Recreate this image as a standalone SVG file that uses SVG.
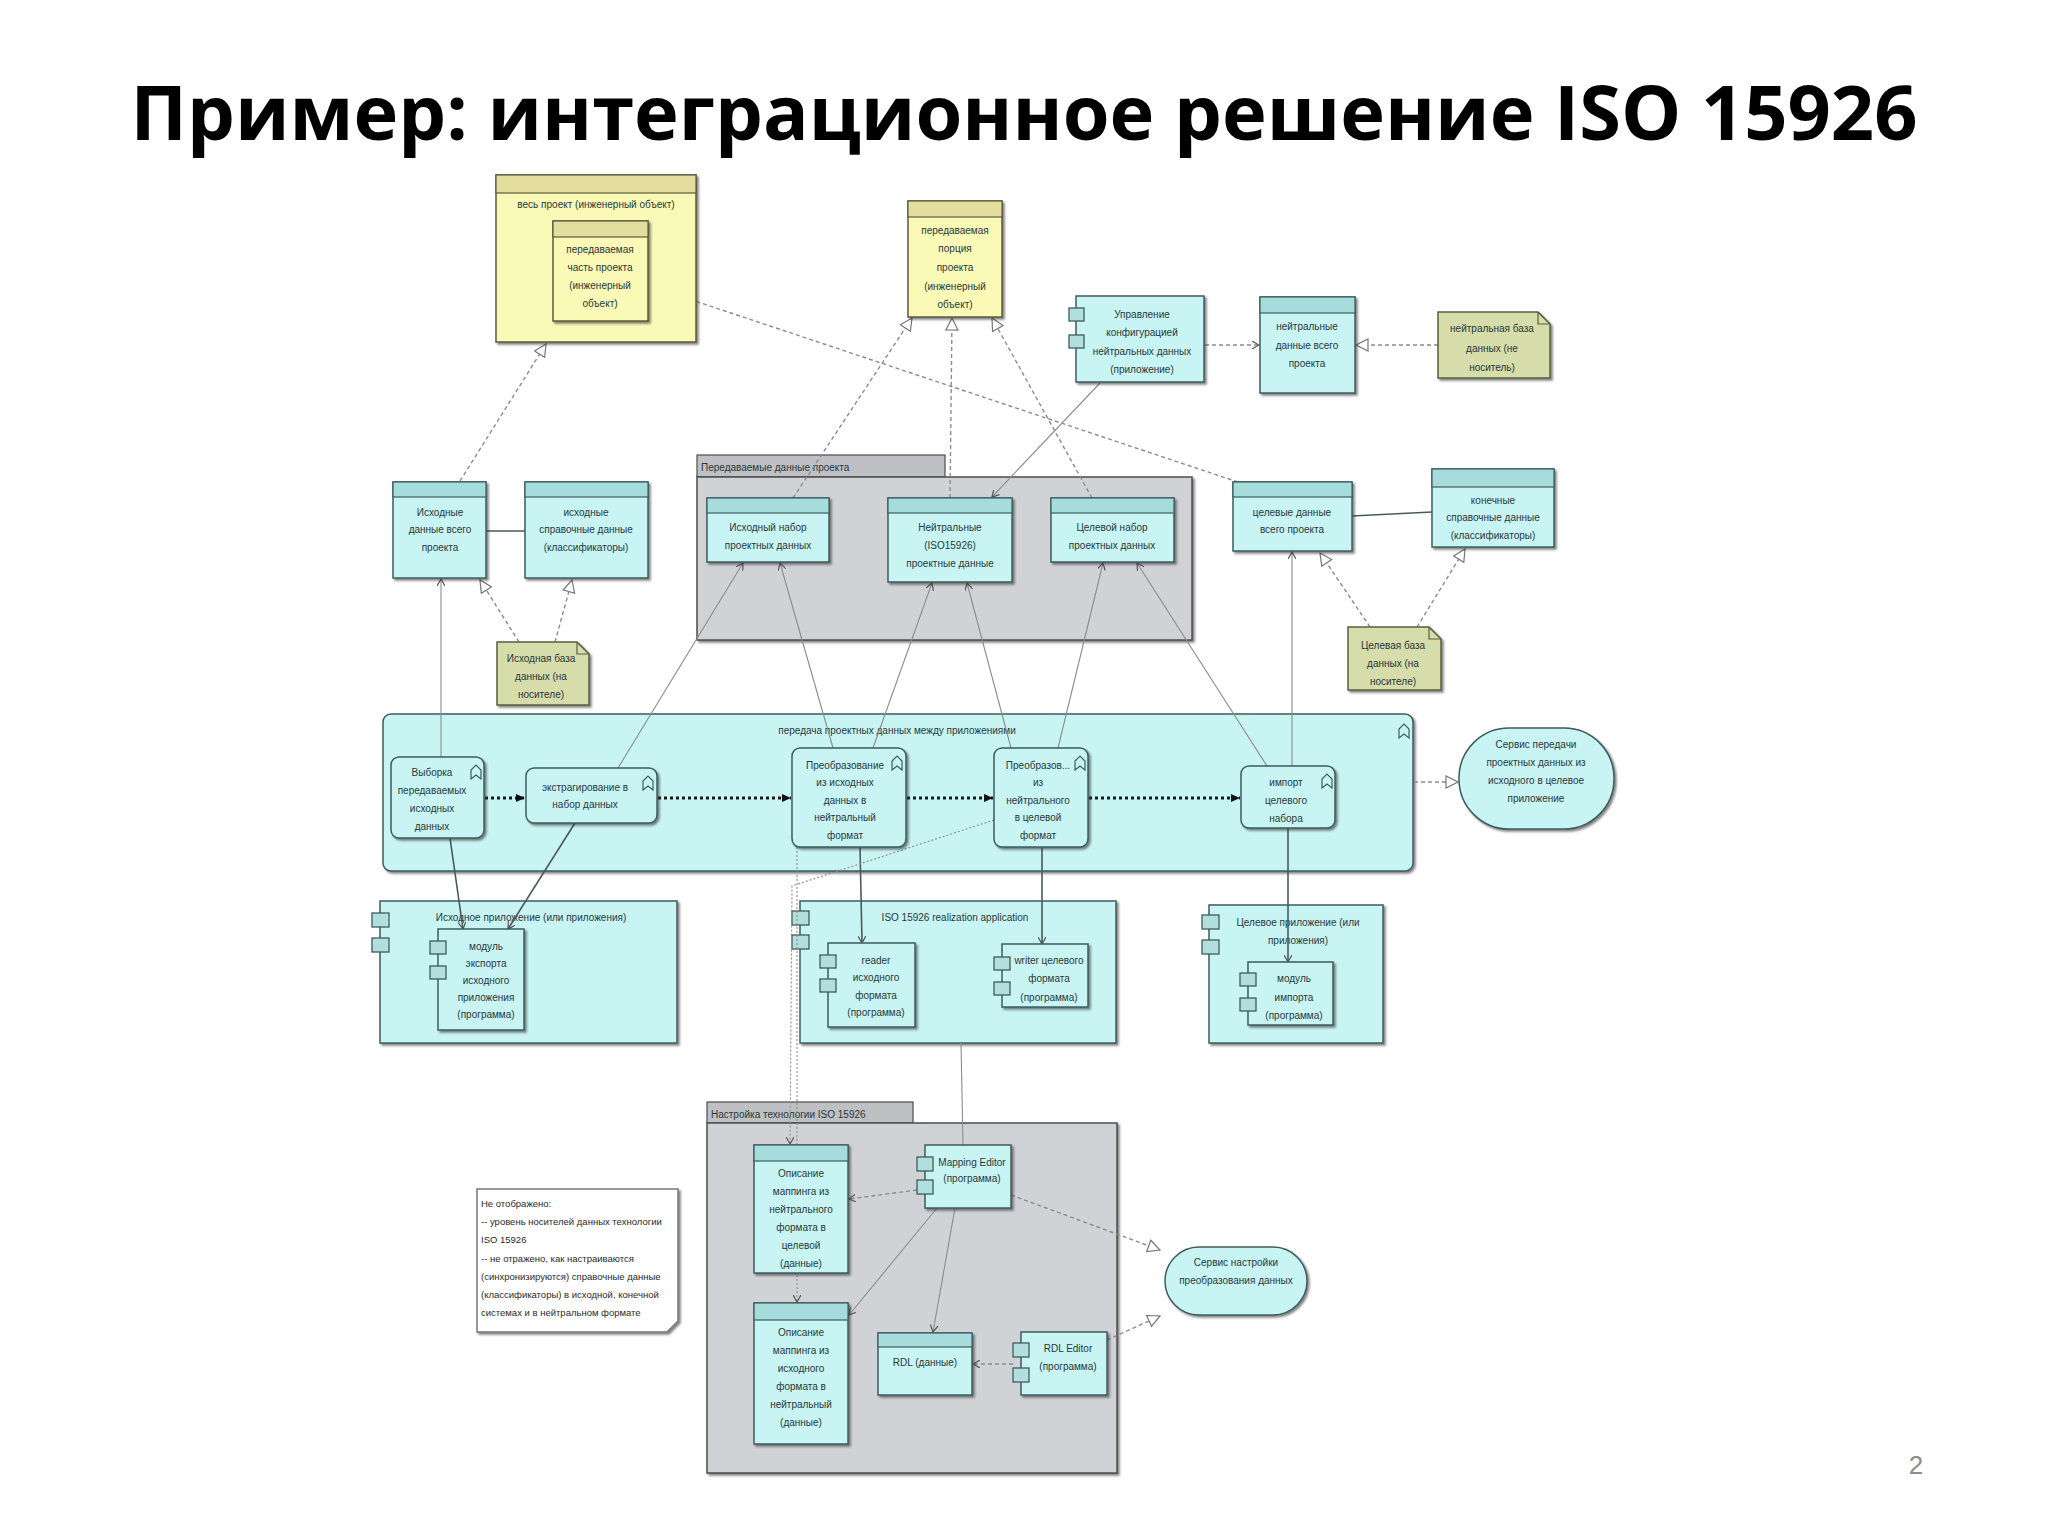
<svg xmlns="http://www.w3.org/2000/svg" width="2048" height="1536" viewBox="0 0 2048 1536">
<style>
.bg{fill:#ffffff}
.cy{fill:#c9f4f4;stroke:#3d5c5c;stroke-width:1.5;filter:url(#sh)}
.hd{fill:#a6dcdc;stroke:#3d5c5c;stroke-width:1.2}
.sq{fill:#b3dede;stroke:#3d5c5c;stroke-width:1.3}
.ye{fill:#fbf9b6;stroke:#5d5a3e;stroke-width:1.5;filter:url(#sh)}
.yh{fill:#e4de9e;stroke:#5d5a3e;stroke-width:1.2}
.nt{fill:#d6dcaa;stroke:#55603e;stroke-width:1.5;filter:url(#sh)}
.gr{fill:#d1d2d6;stroke:#4a4c50;stroke-width:1.5;filter:url(#sh)}
.gt{fill:#bfc0c4;stroke:#4a4c50;stroke-width:1.2}
.wn{fill:#ffffff;stroke:#777;stroke-width:1.5;filter:url(#sh)}
.t{font-family:"Liberation Sans",Arial,sans-serif;font-size:10px;fill:#26383a;text-anchor:middle}
.tl{font-family:"Liberation Sans",Arial,sans-serif;font-size:10px;fill:#26383a;text-anchor:start}
.tn{font-family:"Liberation Sans",Arial,sans-serif;font-size:9.5px;fill:#2a2a2a;text-anchor:start}
.ln{stroke:#8c8c8c;stroke-width:1.1;fill:none}
.dl{stroke:#8c8c8c;stroke-width:1.4;stroke-dasharray:4 3;fill:none}
.tr{stroke:#1a1a1a;stroke-width:3;stroke-dasharray:3 3;fill:none}
.as{stroke:#4a5a5a;stroke-width:1.6;fill:none}
.ic{fill:none;stroke:#3d5c5c;stroke-width:1.2}
</style>
<defs>
<filter id="sh" x="-5%" y="-5%" width="115%" height="115%">
<feDropShadow dx="2" dy="2" stdDeviation="0.8" flood-color="#333" flood-opacity="0.6"/>
</filter>
<marker id="real" markerWidth="14" markerHeight="14" refX="13" refY="7" orient="auto" markerUnits="userSpaceOnUse"><path d="M1,1 L13,7 L1,13 z" fill="#fff" stroke="#777" stroke-width="1.2"/></marker>
<marker id="acc" markerWidth="8" markerHeight="8" refX="7" refY="4" orient="auto" markerUnits="userSpaceOnUse"><path d="M0,0 L7,4 L0,8" fill="none" stroke="#555" stroke-width="1.2"/></marker>
<marker id="trig" markerWidth="10" markerHeight="10" refX="9" refY="5" orient="auto" markerUnits="userSpaceOnUse"><path d="M0,1 L9,5 L0,9 z" fill="#111"/></marker>
</defs>
<rect class="bg" x="0" y="0" width="2048" height="1536"/>

<text x="1024" y="140" font-family="'Open Sans','Noto Sans',sans-serif" font-size="76" font-weight="bold" fill="#000" text-anchor="middle" textLength="1787" lengthAdjust="spacingAndGlyphs">Пример: интеграционное решение ISO 15926</text>

<!-- containers -->
<g id="g-transfer">
<rect class="gt" x="697" y="455" width="248" height="22"/>
<rect class="gr" x="697" y="477" width="495" height="163"/>
<text class="tl" x="701" y="471">Передаваемые данные проекта</text>
</g>
<g id="g-setup">
<rect class="gt" x="707" y="1102" width="206" height="21"/>
<rect class="gr" x="707" y="1123" width="410" height="350"/>
<text class="tl" x="711" y="1118">Настройка технологии ISO 15926</text>
</g>
<g id="p-transfer">
<rect class="cy" x="383" y="714" width="1030" height="157" rx="8"/>
<text class="t" x="897" y="734">передача проектных данных между приложениями</text>
<path class="ic" d="M1399,738 L1399,729 L1404,724 L1409,729 L1409,738 L1404,734 z"/>
</g>
<g id="a-src">
<rect class="cy" x="380" y="901" width="297" height="142"/>
<rect class="sq" x="372" y="913" width="17" height="14"/>
<rect class="sq" x="372" y="938" width="17" height="14"/>
<text class="t" x="531" y="921">Исходное приложение (или приложения)</text>
</g>
<g id="a-iso">
<rect class="cy" x="800" y="901" width="316" height="142"/>
<rect class="sq" x="792" y="911" width="17" height="14"/>
<rect class="sq" x="792" y="935" width="17" height="14"/>
<text class="t" x="955" y="921">ISO 15926 realization application</text>
</g>
<g id="a-tgt">
<rect class="cy" x="1209" y="905" width="174" height="138"/>
<rect class="sq" x="1202" y="915" width="17" height="14"/>
<rect class="sq" x="1202" y="940" width="17" height="14"/>
<text class="t" x="1298" y="926">Целевое приложение (или</text>
<text class="t" x="1298" y="944">приложения)</text>
</g>

<!-- connectors -->
<g id="connectors">
<line class="dl" x1="460" y1="481" x2="546" y2="344" marker-end="url(#real)"/>
<line class="dl" x1="1238" y1="482" x2="650" y2="286" marker-end="url(#real)"/>
<line class="dl" x1="793" y1="498" x2="912" y2="318" marker-end="url(#real)"/>
<line class="dl" x1="950" y1="498" x2="952" y2="318" marker-end="url(#real)"/>
<line class="dl" x1="1092" y1="498" x2="992" y2="318" marker-end="url(#real)"/>
<line class="ln" x1="1100" y1="383" x2="992" y2="497" marker-end="url(#acc)"/>
<line class="dl" x1="1205" y1="345" x2="1259" y2="345" marker-end="url(#acc)"/>
<line class="dl" x1="1438" y1="345" x2="1356" y2="345" marker-end="url(#real)"/>
<line class="dl" x1="519" y1="642" x2="480" y2="580" marker-end="url(#real)"/>
<line class="dl" x1="555" y1="642" x2="572" y2="580" marker-end="url(#real)"/>
<line class="dl" x1="1370" y1="627" x2="1320" y2="553" marker-end="url(#real)"/>
<line class="dl" x1="1417" y1="627" x2="1465" y2="549" marker-end="url(#real)"/>
<line class="as" x1="486" y1="531" x2="525" y2="531"/>
<line class="as" x1="1352" y1="516" x2="1432" y2="512"/>
<line class="ln" x1="441" y1="757" x2="441" y2="579" marker-end="url(#acc)"/>
<line class="ln" x1="618" y1="768" x2="743" y2="563" marker-end="url(#acc)"/>
<line class="ln" x1="833" y1="748" x2="780" y2="563" marker-end="url(#acc)"/>
<line class="ln" x1="873" y1="748" x2="932" y2="583" marker-end="url(#acc)"/>
<line class="ln" x1="1011" y1="748" x2="967" y2="583" marker-end="url(#acc)"/>
<line class="ln" x1="1058" y1="748" x2="1103" y2="563" marker-end="url(#acc)"/>
<line class="ln" x1="1267" y1="766" x2="1137" y2="563" marker-end="url(#acc)"/>
<line class="ln" x1="1292" y1="766" x2="1292" y2="552" marker-end="url(#acc)"/>
<line class="tr" x1="485" y1="798" x2="525" y2="798" marker-end="url(#trig)"/>
<line class="tr" x1="658" y1="798" x2="791" y2="798" marker-end="url(#trig)"/>
<line class="tr" x1="907" y1="798" x2="993" y2="798" marker-end="url(#trig)"/>
<line class="tr" x1="1089" y1="798" x2="1240" y2="798" marker-end="url(#trig)"/>
<line class="dl" x1="1414" y1="782" x2="1458" y2="782" marker-end="url(#real)"/>
<line class="as" x1="450" y1="838" x2="463" y2="929" marker-end="url(#acc)"/>
<line class="as" x1="575" y1="823" x2="508" y2="929" marker-end="url(#acc)"/>
<line class="as" x1="860" y1="847" x2="862" y2="943" marker-end="url(#acc)"/>
<line class="as" x1="1042" y1="848" x2="1042" y2="944" marker-end="url(#acc)"/>
<line class="as" x1="1288" y1="828" x2="1288" y2="962" marker-end="url(#acc)"/>
<line class="ln" x1="961" y1="1043" x2="963" y2="1145"/>
<polyline class="dl" style="stroke-width:1.1;stroke-dasharray:2 2" points="994,820 792,886 790,1144" marker-end="url(#acc)"/>
<polyline class="dl" style="stroke-width:1.1;stroke-dasharray:2 2" points="797,847 797,1302" marker-end="url(#acc)"/>
<line class="dl" x1="917" y1="1190" x2="849" y2="1199" marker-end="url(#acc)"/>
<line class="ln" x1="937" y1="1208" x2="849" y2="1315" marker-end="url(#acc)"/>
<line class="ln" x1="955" y1="1208" x2="933" y2="1332" marker-end="url(#acc)"/>
<line class="dl" x1="1011" y1="1195" x2="1160" y2="1250" marker-end="url(#real)"/>
<line class="dl" x1="1107" y1="1340" x2="1160" y2="1316" marker-end="url(#real)"/>
<line class="dl" x1="1013" y1="1364" x2="973" y2="1364" marker-end="url(#acc)"/>
</g>

<!-- nodes -->
<g id="y-project">
<rect class="ye" x="496" y="175" width="200" height="167"/>
<rect class="yh" x="496" y="175" width="200" height="18"/>
<text class="t" x="596" y="208">весь проект (инженерный объект)</text>
<rect class="ye" x="553" y="221" width="95" height="100"/>
<rect class="yh" x="553" y="221" width="95" height="16"/>
<text class="t" x="600" y="253">передаваемая</text>
<text class="t" x="600" y="271">часть проекта</text>
<text class="t" x="600" y="289">(инженерный</text>
<text class="t" x="600" y="307">объект)</text>
</g>
<g id="y-portion">
<rect class="ye" x="908" y="201" width="94" height="116"/>
<rect class="yh" x="908" y="201" width="94" height="16"/>
<text class="t" x="955" y="234">передаваемая</text>
<text class="t" x="955" y="252">порция</text>
<text class="t" x="955" y="271">проекта</text>
<text class="t" x="955" y="290">(инженерный</text>
<text class="t" x="955" y="308">объект)</text>
</g>
<g id="app-config">
<rect class="cy" x="1076" y="296" width="128" height="86"/>
<rect class="sq" x="1069" y="308" width="15" height="13"/>
<rect class="sq" x="1069" y="335" width="15" height="13"/>
<text class="t" x="1142" y="318">Управление</text>
<text class="t" x="1142" y="336">конфигурацией</text>
<text class="t" x="1142" y="355">нейтральных данных</text>
<text class="t" x="1142" y="373">(приложение)</text>
</g>
<g id="d-neutral-all">
<rect class="cy" x="1260" y="297" width="95" height="96"/>
<rect class="hd" x="1260" y="297" width="95" height="16"/>
<text class="t" x="1307" y="330">нейтральные</text>
<text class="t" x="1307" y="349">данные всего</text>
<text class="t" x="1307" y="367">проекта</text>
</g>
<g id="n-neutral-db">
<path class="nt" d="M1438,312 L1538,312 L1550,324 L1550,378 L1438,378 z"/>
<path d="M1538,312 L1538,324 L1550,324" fill="none" stroke="#55603e" stroke-width="1.2"/>
<text class="t" x="1492" y="332">нейтральная база</text>
<text class="t" x="1492" y="352">данных (не</text>
<text class="t" x="1492" y="371">носитель)</text>
</g>
<g id="d-src-set">
<rect class="cy" x="707" y="498" width="122" height="64"/>
<rect class="hd" x="707" y="498" width="122" height="15"/>
<text class="t" x="768" y="531">Исходный набор</text>
<text class="t" x="768" y="549">проектных данных</text>
</g>
<g id="d-neutral">
<rect class="cy" x="888" y="498" width="124" height="84"/>
<rect class="hd" x="888" y="498" width="124" height="15"/>
<text class="t" x="950" y="531">Нейтральные</text>
<text class="t" x="950" y="549">(ISO15926)</text>
<text class="t" x="950" y="567">проектные данные</text>
</g>
<g id="d-tgt-set">
<rect class="cy" x="1051" y="498" width="123" height="64"/>
<rect class="hd" x="1051" y="498" width="123" height="15"/>
<text class="t" x="1112" y="531">Целевой набор</text>
<text class="t" x="1112" y="549">проектных данных</text>
</g>
<g id="d-src-all">
<rect class="cy" x="393" y="482" width="93" height="96"/>
<rect class="hd" x="393" y="482" width="93" height="15"/>
<text class="t" x="440" y="516">Исходные</text>
<text class="t" x="440" y="533">данные всего</text>
<text class="t" x="440" y="551">проекта</text>
</g>
<g id="d-src-ref">
<rect class="cy" x="525" y="482" width="123" height="96"/>
<rect class="hd" x="525" y="482" width="123" height="15"/>
<text class="t" x="586" y="516">исходные</text>
<text class="t" x="586" y="533">справочные данные</text>
<text class="t" x="586" y="551">(классификаторы)</text>
</g>
<g id="n-src-db">
<path class="nt" d="M497,642 L577,642 L589,654 L589,705 L497,705 z"/>
<path d="M577,642 L577,654 L589,654" fill="none" stroke="#55603e" stroke-width="1.2"/>
<text class="t" x="541" y="662">Исходная база</text>
<text class="t" x="541" y="680">данных (на</text>
<text class="t" x="541" y="698">носителе)</text>
</g>
<g id="d-tgt-all">
<rect class="cy" x="1233" y="482" width="119" height="69"/>
<rect class="hd" x="1233" y="482" width="119" height="15"/>
<text class="t" x="1292" y="516">целевые данные</text>
<text class="t" x="1292" y="533">всего проекта</text>
</g>
<g id="d-tgt-ref">
<rect class="cy" x="1432" y="469" width="122" height="78"/>
<rect class="hd" x="1432" y="469" width="122" height="18"/>
<text class="t" x="1493" y="504">конечные</text>
<text class="t" x="1493" y="521">справочные данные</text>
<text class="t" x="1493" y="539">(классификаторы)</text>
</g>
<g id="n-tgt-db">
<path class="nt" d="M1348,627 L1429,627 L1441,639 L1441,690 L1348,690 z"/>
<path d="M1429,627 L1429,639 L1441,639" fill="none" stroke="#55603e" stroke-width="1.2"/>
<text class="t" x="1393" y="649">Целевая база</text>
<text class="t" x="1393" y="667">данных (на</text>
<text class="t" x="1393" y="685">носителе)</text>
</g>

<g id="p-select">
<rect class="cy" x="391" y="757" width="93" height="81" rx="8"/>
<path class="ic" d="M471,779 L471,770 L476,765 L481,770 L481,779 L476,775 z"/>
<text class="t" x="432" y="776">Выборка</text>
<text class="t" x="432" y="794">передаваемых</text>
<text class="t" x="432" y="812">исходных</text>
<text class="t" x="432" y="830">данных</text>
</g>
<g id="p-extract">
<rect class="cy" x="526" y="768" width="131" height="55" rx="8"/>
<path class="ic" d="M643,790 L643,781 L648,776 L653,781 L653,790 L648,786 z"/>
<text class="t" x="585" y="791">экстрагирование в</text>
<text class="t" x="585" y="808">набор данных</text>
</g>
<g id="p-conv1">
<rect class="cy" x="792" y="748" width="114" height="99" rx="8"/>
<path class="ic" d="M892,770 L892,761 L897,756 L902,761 L902,770 L897,766 z"/>
<text class="t" x="845" y="769">Преобразование</text>
<text class="t" x="845" y="786">из исходных</text>
<text class="t" x="845" y="804">данных в</text>
<text class="t" x="845" y="821">нейтральный</text>
<text class="t" x="845" y="839">формат</text>
</g>
<g id="p-conv2">
<rect class="cy" x="994" y="748" width="94" height="99" rx="8"/>
<path class="ic" d="M1075,770 L1075,761 L1080,756 L1085,761 L1085,770 L1080,766 z"/>
<text class="t" x="1038" y="769">Преобразов...</text>
<text class="t" x="1038" y="786">из</text>
<text class="t" x="1038" y="804">нейтрального</text>
<text class="t" x="1038" y="821">в целевой</text>
<text class="t" x="1038" y="839">формат</text>
</g>
<g id="p-import">
<rect class="cy" x="1241" y="766" width="94" height="62" rx="8"/>
<path class="ic" d="M1322,788 L1322,779 L1327,774 L1332,779 L1332,788 L1327,784 z"/>
<text class="t" x="1286" y="786">импорт</text>
<text class="t" x="1286" y="804">целевого</text>
<text class="t" x="1286" y="822">набора</text>
</g>
<g id="s-transfer">
<rect class="cy" x="1459" y="728" width="155" height="101" rx="50"/>
<text class="t" x="1536" y="748">Сервис передачи</text>
<text class="t" x="1536" y="766">проектных данных из</text>
<text class="t" x="1536" y="784">исходного в целевое</text>
<text class="t" x="1536" y="802">приложение</text>
</g>

<g id="c-export">
<rect class="cy" x="438" y="929" width="86" height="101"/>
<rect class="sq" x="430" y="941" width="16" height="13"/>
<rect class="sq" x="430" y="966" width="16" height="13"/>
<text class="t" x="486" y="950">модуль</text>
<text class="t" x="486" y="967">экспорта</text>
<text class="t" x="486" y="984">исходного</text>
<text class="t" x="486" y="1001">приложения</text>
<text class="t" x="486" y="1018">(программа)</text>
</g>
<g id="c-reader">
<rect class="cy" x="828" y="943" width="87" height="84"/>
<rect class="sq" x="820" y="955" width="16" height="13"/>
<rect class="sq" x="820" y="979" width="16" height="13"/>
<text class="t" x="876" y="964">reader</text>
<text class="t" x="876" y="981">исходного</text>
<text class="t" x="876" y="999">формата</text>
<text class="t" x="876" y="1016">(программа)</text>
</g>
<g id="c-writer">
<rect class="cy" x="1002" y="944" width="86" height="63"/>
<rect class="sq" x="994" y="957" width="16" height="13"/>
<rect class="sq" x="994" y="982" width="16" height="13"/>
<text class="t" x="1049" y="964">writer целевого</text>
<text class="t" x="1049" y="982">формата</text>
<text class="t" x="1049" y="1001">(программа)</text>
</g>
<g id="c-import">
<rect class="cy" x="1248" y="962" width="85" height="63"/>
<rect class="sq" x="1240" y="973" width="16" height="13"/>
<rect class="sq" x="1240" y="998" width="16" height="13"/>
<text class="t" x="1294" y="982">модуль</text>
<text class="t" x="1294" y="1001">импорта</text>
<text class="t" x="1294" y="1019">(программа)</text>
</g>

<g id="d-map-nt">
<rect class="cy" x="754" y="1145" width="94" height="128"/>
<rect class="hd" x="754" y="1145" width="94" height="16"/>
<text class="t" x="801" y="1177">Описание</text>
<text class="t" x="801" y="1195">маппинга из</text>
<text class="t" x="801" y="1213">нейтрального</text>
<text class="t" x="801" y="1231">формата в</text>
<text class="t" x="801" y="1249">целевой</text>
<text class="t" x="801" y="1267">(данные)</text>
</g>
<g id="d-map-sn">
<rect class="cy" x="754" y="1303" width="94" height="141"/>
<rect class="hd" x="754" y="1303" width="94" height="17"/>
<text class="t" x="801" y="1336">Описание</text>
<text class="t" x="801" y="1354">маппинга из</text>
<text class="t" x="801" y="1372">исходного</text>
<text class="t" x="801" y="1390">формата в</text>
<text class="t" x="801" y="1408">нейтральный</text>
<text class="t" x="801" y="1426">(данные)</text>
</g>
<g id="d-rdl">
<rect class="cy" x="878" y="1333" width="94" height="62"/>
<rect class="hd" x="878" y="1333" width="94" height="14"/>
<text class="t" x="925" y="1366">RDL (данные)</text>
</g>
<g id="c-rdl-editor">
<rect class="cy" x="1021" y="1332" width="86" height="63"/>
<rect class="sq" x="1013" y="1343" width="16" height="14"/>
<rect class="sq" x="1013" y="1368" width="16" height="14"/>
<text class="t" x="1068" y="1352">RDL Editor</text>
<text class="t" x="1068" y="1370">(программа)</text>
</g>
<g id="c-mapping-editor">
<rect class="cy" x="925" y="1145" width="86" height="63"/>
<rect class="sq" x="917" y="1157" width="16" height="14"/>
<rect class="sq" x="917" y="1180" width="16" height="14"/>
<text class="t" x="972" y="1166">Mapping Editor</text>
<text class="t" x="972" y="1182">(программа)</text>
</g>
<g id="s-setup">
<rect class="cy" x="1165" y="1247" width="142" height="68" rx="34"/>
<text class="t" x="1236" y="1266">Сервис настройки</text>
<text class="t" x="1236" y="1284">преобразования данных</text>
</g>
<g id="n-not-shown">
<path class="wn" d="M477,1189 L678,1189 L678,1321 L667,1332 L477,1332 z"/>
<text class="tn" x="481" y="1207">Не отображено:</text>
<text class="tn" x="481" y="1225">-- уровень носителей данных технологии</text>
<text class="tn" x="481" y="1243">ISO 15926</text>
<text class="tn" x="481" y="1262">-- не отражено, как настраиваются</text>
<text class="tn" x="481" y="1280">(синхронизируются) справочные данные</text>
<text class="tn" x="481" y="1298">(классификаторы) в исходной, конечной</text>
<text class="tn" x="481" y="1316">системах и в нейтральном формате</text>
</g>

<text x="1916" y="1474" font-family="'Liberation Sans',Arial,sans-serif" font-size="26" fill="#8c8c8c" text-anchor="middle">2</text>
</svg>
